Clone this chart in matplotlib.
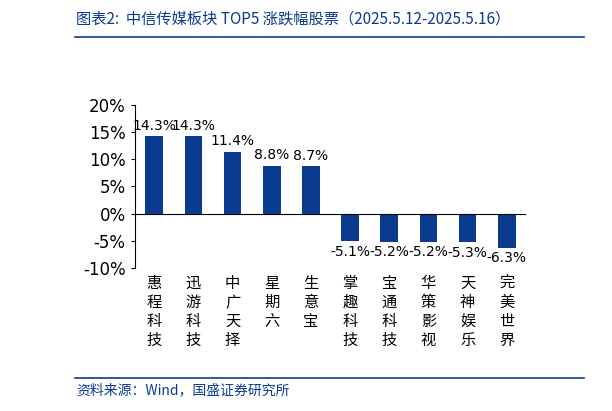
import matplotlib
matplotlib.use("Agg")
import matplotlib.pyplot as plt
from matplotlib.lines import Line2D

plt.rcParams['font.family'] = ['Noto Sans CJK SC', 'DejaVu Sans']

categories = ["惠程科技", "迅游科技", "中广天择", "星期六", "生意宝",
              "掌趣科技", "宝通科技", "华策影视", "天神娱乐", "完美世界"]
values = [14.3, 14.3, 11.4, 8.8, 8.7, -5.1, -5.2, -5.2, -5.3, -6.3]
yticks = [-10, -5, 0, 5, 10, 15, 20]

blue = "#0b3b8f"
fig = plt.figure(figsize=(6.12, 4.11), dpi=100)
ax = fig.add_axes([0.22, 0.348, 0.64, 0.397])
x = list(range(len(values)))
ax.bar(x, values, width=0.45, color=blue)
ax.set_xlim(-0.5, len(values) - 0.5)
ax.set_ylim(-10, 20)
ax.set_yticks(yticks)
ax.set_yticklabels([f"{v}%" for v in yticks], fontsize=12, family='DejaVu Sans')
ax.set_xticks([])
for s in ['top', 'right', 'bottom']:
    ax.spines[s].set_visible(False)
ax.spines['left'].set_color('black')
ax.axhline(0, color='black', lw=0.8)
ax.tick_params(axis='y', length=3)
for xi, v in zip(x, values):
    if v >= 0:
        ax.text(xi, v + 0.6, f"{v}%", ha='center', va='bottom', fontsize=10, family='DejaVu Sans')
    else:
        ax.text(xi, v - 0.6, f"{v}%", ha='center', va='top', fontsize=10, family='DejaVu Sans')
    ax.text(xi, -11.3, "\n".join(categories[xi]), ha='center', va='top', fontsize=11,
            linespacing=1.15)

fig.text(0.125, 0.955, "图表2:  中信传媒板块 TOP5 涨跌幅股票（2025.5.12-2025.5.16）",
         fontsize=11, style='italic', color=blue, va='center')
fig.add_artist(Line2D([0.122, 0.955], [0.91, 0.91], color=blue, lw=1.2))
fig.add_artist(Line2D([0.122, 0.955], [0.08, 0.08], color=blue, lw=1.2))
fig.text(0.125, 0.05, "资料来源：Wind，国盛证券研究所", fontsize=10, style='italic', color=blue, va='center')
fig.savefig("out.png", dpi=100)
